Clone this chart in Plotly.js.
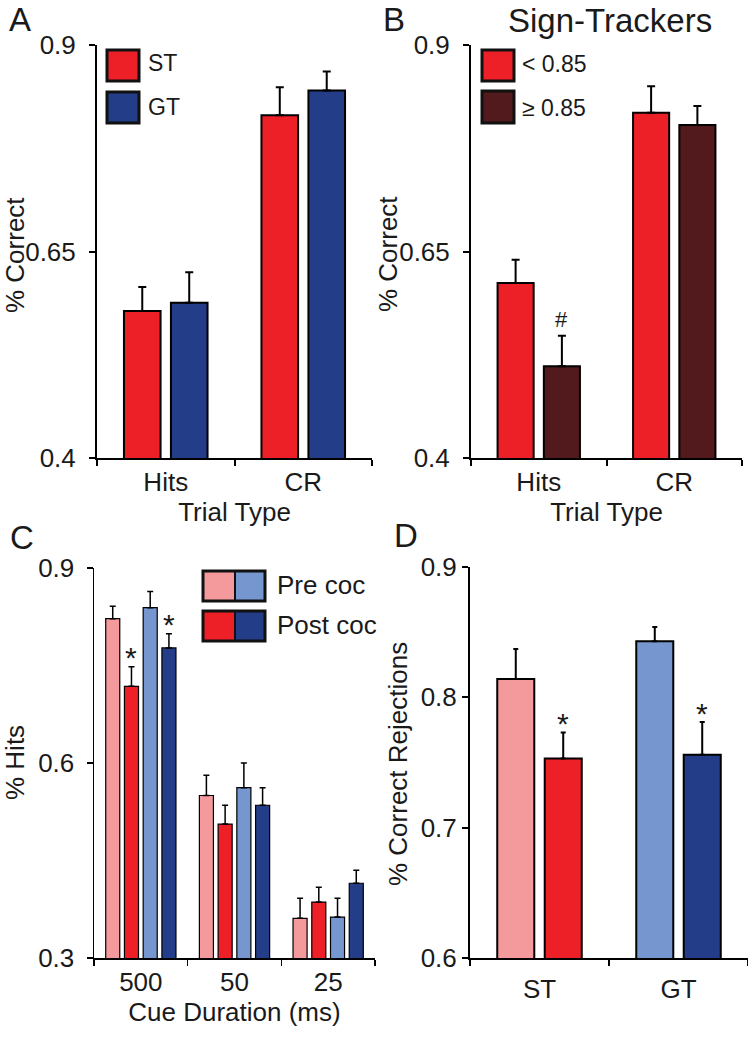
<!DOCTYPE html>
<html><head><meta charset="utf-8">
<script src="https://cdn.plot.ly/plotly-3.0.1.min.js"></script>
<style>html,body{margin:0;padding:0;background:#fff}</style>
</head><body><div id="chart" style="width:748px;height:1050px"></div>
<script>
// ---------- DATA ----------
// Panel A: % Correct by trial type, ST vs GT
const trialTypes = ['Hits', 'CR'];
const stMean = [0.578, 0.815];
const stSem  = [0.029, 0.034];
const gtMean = [0.588, 0.845];
const gtSem  = [0.037, 0.023];

// Panel B: Sign-Trackers split by 500ms hit rate
const lowMean  = [0.612, 0.818];
const lowSem   = [0.028, 0.032];
const highMean = [0.511, 0.803];
const highSem  = [0.037, 0.023];
const highMarks = ['#', ''];

// Panel C: % Hits by cue duration, pre/post cocaine
const cueDurations = ['500', '50', '25'];
const preStHits  = [0.822, 0.550, 0.361];
const preStErr   = [0.019, 0.031, 0.031];
const postStHits = [0.718, 0.506, 0.386];
const postStErr  = [0.030, 0.029, 0.023];
const preGtHits  = [0.839, 0.562, 0.363];
const preGtErr   = [0.025, 0.038, 0.029];
const postGtHits = [0.777, 0.535, 0.415];
const postGtErr  = [0.022, 0.027, 0.020];
const postStMarks = ['*', '', ''];
const postGtMarks = ['*', '', ''];

// Panel D: % Correct rejections, pre/post cocaine
const phenotypes = ['ST', 'GT'];
const preCR     = [0.814, 0.843];
const preCRErr  = [0.023, 0.011];
const postCR    = [0.753, 0.756];
const postCRErr = [0.020, 0.025];
const postCRMarks = ['*', '*'];

// ---------- STYLE ----------
const W = 748, H = 1050;
const RED = '#ED2028', NAVY = '#233D88', BROWN = '#521A1C', PINK = '#F49A9C', LBLUE = '#7596CE';
const INK = '#1a1a1a';
const FONT = '"Liberation Sans", Arial, Helvetica, sans-serif';
const px = v => v / W;
const py = v => 1 - v / H;

function errY(arr, th, w) {
  return {type: 'data', symmetric: false, array: arr, arrayminus: arr.map(() => 0),
          color: '#000', thickness: th, width: w, visible: true};
}
function bar(x, y, err, color, xa, ya, lw, th, w, extra) {
  return Object.assign({type: 'bar', x: x, y: y, xaxis: xa, yaxis: ya,
    marker: {color: color, line: {color: '#000', width: lw}},
    error_y: errY(err, th, w), hoverinfo: 'skip'}, extra || {});
}

const traces = [
  bar(trialTypes, stMean, stSem, RED, 'x', 'y', 2, 2, 4),
  bar(trialTypes, gtMean, gtSem, NAVY, 'x', 'y', 2, 2, 4),
  bar(trialTypes, lowMean, lowSem, RED, 'x2', 'y2', 2, 2, 4),
  bar(trialTypes, highMean, highSem, BROWN, 'x2', 'y2', 2, 2, 4),
];
// Panel C: 4 bars per group, explicit slot layout
const cSeries = [
  [preStHits, preStErr, PINK],
  [postStHits, postStErr, RED],
  [preGtHits, preGtErr, LBLUE],
  [postGtHits, postGtErr, NAVY],
];
const cSlot = 0.2, cBarW = 0.15;
cSeries.forEach((s, i) => {
  traces.push(bar(cueDurations, s[0], s[1], s[2], 'x3', 'y3', 1.2, 1.5, 3,
    {width: cBarW, offset: -0.4 + cSlot * i + (cSlot - cBarW) / 2}));
});
traces.push(bar(phenotypes, preCR, preCRErr, [PINK, LBLUE], 'x4', 'y4', 2, 2, 2.5));
traces.push(bar(phenotypes, postCR, postCRErr, [RED, NAVY], 'x4', 'y4', 2, 2, 2.5));

// ---------- LAYOUT ----------
function xAxis(domain, anchor, titleText, range, extra) {
  return Object.assign({domain: domain, anchor: anchor, type: 'category', range: range,
    tickson: 'boundaries', ticks: 'outside', ticklen: 6, tickwidth: 2, tickcolor: '#000',
    showline: true, linewidth: 2, linecolor: '#000', showgrid: false, zeroline: false,
    tickfont: {size: 26, color: INK}, fixedrange: true,
    title: {text: titleText, font: {size: 26, color: INK}, standoff: 4}}, extra || {});
}
function yAxis(domain, anchor, range, vals, extra) {
  return Object.assign({domain: domain, anchor: anchor, range: range,
    tickvals: vals, ticktext: vals.map(String),
    ticks: 'outside', ticklen: 6, tickwidth: 2, tickcolor: '#000',
    showline: true, linewidth: 2, linecolor: '#000', showgrid: false, zeroline: false,
    tickfont: {size: 26, color: INK}, fixedrange: true}, extra || {});
}

const annotations = [];
function paperText(text, x, y, size, xanchor, extra) {
  annotations.push(Object.assign({text: text, xref: 'paper', yref: 'paper', x: px(x), y: py(y),
    xanchor: xanchor, yanchor: 'middle', showarrow: false, font: {size: size, color: INK}}, extra || {}));
}
paperText('A', 8, 0, 33, 'left', {yanchor: 'top', borderpad: 0});
paperText('B', 382, 0, 33, 'left', {yanchor: 'top', borderpad: 0});
paperText('C', 8, 537, 33, 'left');
paperText('D', 392, 535, 33, 'left');
paperText('Sign-Trackers', 610, 1, 33, 'center', {yanchor: 'top', borderpad: 0});
paperText('ST', 146, 63, 23, 'left');
paperText('GT', 146, 107, 23, 'left');
paperText('< 0.85', 520, 64, 23, 'left');
paperText('≥ 0.85', 520, 108, 23, 'left');
paperText('Pre coc', 275, 585, 26, 'left');
paperText('Post coc', 275, 625, 26, 'left');
// y-axis titles (rotated)
paperText('% Correct', 15, 255, 26, 'center', {textangle: -90});
paperText('% Correct', 388, 254, 26, 'center', {textangle: -90});
paperText('% Hits', 15, 763, 26, 'center', {textangle: -90});
paperText('% Correct Rejections', 398, 764, 26, 'center', {textangle: -90});

// significance marks placed on data coordinates
function marks(labels, vals, errs, xa, ya, offset, size, shift) {
  labels.forEach((m, i) => {
    if (!m) return;
    annotations.push({text: m, xref: xa, yref: ya, x: i + offset, y: vals[i] + errs[i],
      yanchor: 'middle', xanchor: 'center', yshift: shift, showarrow: false,
      font: {size: size, color: INK}});
  });
}
const pairOff = (1 - 0.317) / 4;
marks(highMarks, highMean, highSem, 'x2', 'y2', pairOff, 22, 16);
marks(postStMarks, postStHits, postStErr, 'x3', 'y3', -0.4 + cSlot * 1.5, 30, 9);
marks(postGtMarks, postGtHits, postGtErr, 'x3', 'y3', -0.4 + cSlot * 3.5, 30, 9);
marks(postCRMarks, postCR, postCRErr, 'x4', 'y4', pairOff, 30, 9);

// legend swatches
const shapes = [];
function box(x0, y0, x1, y1, color) {
  shapes.push({type: 'rect', xref: 'paper', yref: 'paper', x0: px(x0), x1: px(x1), y0: py(y1), y1: py(y0),
    fillcolor: color, line: {color: '#111', width: 3}});
}
function box2(x0, xm, x1, y0, y1, c1, c2) {
  shapes.push({type: 'rect', xref: 'paper', yref: 'paper', x0: px(x0), x1: px(xm), y0: py(y1), y1: py(y0),
    fillcolor: c1, line: {width: 0}});
  shapes.push({type: 'rect', xref: 'paper', yref: 'paper', x0: px(xm), x1: px(x1), y0: py(y1), y1: py(y0),
    fillcolor: c2, line: {width: 0}});
  shapes.push({type: 'rect', xref: 'paper', yref: 'paper', x0: px(x0), x1: px(x1), y0: py(y1), y1: py(y0),
    fillcolor: 'rgba(0,0,0,0)', line: {color: '#111', width: 3}});
  shapes.push({type: 'line', xref: 'paper', yref: 'paper', x0: px(xm), x1: px(xm), y0: py(y1), y1: py(y0),
    line: {color: '#111', width: 2}});
}
box(107, 50, 139, 81, RED);
box(107, 92, 139, 123, NAVY);
box(482, 50, 514, 81, RED);
box(482, 91, 514, 123, BROWN);
box2(203, 235, 265, 571, 601, PINK, LBLUE);
box2(203, 235, 265, 611, 641, RED, NAVY);

const layout = {
  width: W, height: H, margin: {l: 0, r: 0, t: 0, b: 0},
  paper_bgcolor: '#fff', plot_bgcolor: '#fff',
  font: {family: FONT, color: INK},
  showlegend: false, barmode: 'group', bargap: 0.317, bargroupgap: 0.22,
  xaxis:  xAxis([px(97), px(372)], 'y', 'Trial Type', [-0.5, 1.5]),
  yaxis:  yAxis([py(458), py(45)], 'x', [0.4, 0.9], [0.4, 0.65, 0.9], {ticklabelstandoff: 8}),
  xaxis2: xAxis([px(471), px(742)], 'y2', 'Trial Type', [-0.5, 1.5]),
  yaxis2: yAxis([py(458), py(45)], 'x2', [0.4, 0.9], [0.4, 0.65, 0.9], {ticklabelstandoff: 8}),
  xaxis3: xAxis([px(94), px(375)], 'y3', 'Cue Duration (ms)', [-0.5, 2.5], {linewidth: 1.5, tickwidth: 1.5}),
  yaxis3: yAxis([py(958), py(568)], 'x3', [0.3, 0.9], [0.3, 0.6, 0.9],
                {linewidth: 1.5, tickwidth: 1.5, ticklabelstandoff: 7}),
  xaxis4: xAxis([px(470), px(748)], 'y4', '', [-0.5, 1.5], {ticklabelstandoff: 7}),
  yaxis4: yAxis([py(958), py(567)], 'x4', [0.6, 0.9], [0.6, 0.7, 0.8, 0.9]),
  annotations: annotations, shapes: shapes
};

Plotly.newPlot('chart', traces, layout, {staticPlot: true, displayModeBar: false});
</script></body></html>
